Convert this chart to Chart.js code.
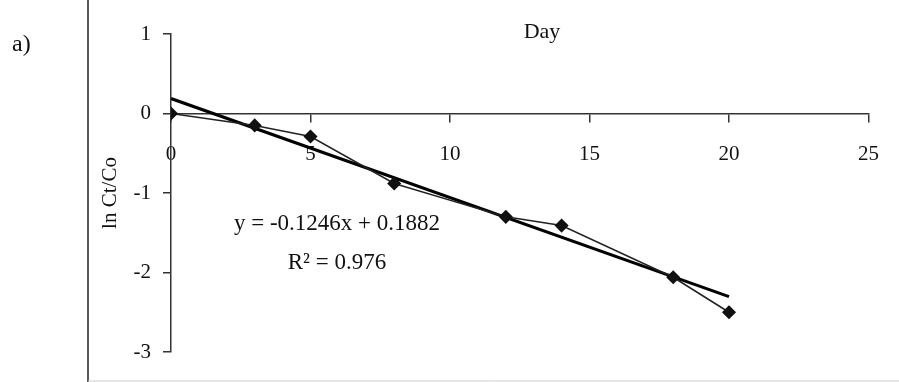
<!DOCTYPE html>
<html>
<head>
<meta charset="utf-8">
<script src="https://cdn.jsdelivr.net/npm/chart.js@4/dist/chart.umd.min.js"></script>
<style>
  html, body { margin: 0; padding: 0; background: #fff; }
  canvas { display: block; }
</style>
</head>
<body>
<canvas id="chart" width="899" height="382"></canvas>
<script>
// measured points (day, ln Ct/Co)
const days = [0, 3, 5, 8, 12, 14, 18, 20];
const lnRatio = [0, -0.15, -0.29, -0.88, -1.30, -1.41, -2.06, -2.50];

// linear trendline from the figure
const trendSlope = [-0.1246];
const trendIntercept = [0.1882];
const trendRange = [0, 20];

const xTicks = [0, 5, 10, 15, 20, 25];
const yTicks = [1, 0, -1, -2, -3];

const serif = 'Liberation Serif';

const trendData = trendRange.map(x => ({ x: x, y: trendSlope[0] * x + trendIntercept[0] }));
const pointData = days.map((d, i) => ({ x: d, y: lnRatio[i] }));

const decorPlugin = {
    id: 'decor',
    afterDraw(chart) {
        const ctx = chart.ctx;
        const area = chart.chartArea;
        ctx.save();

        // frame line at left and bottom
        ctx.strokeStyle = '#222';
        ctx.lineWidth = 1.5;
        ctx.beginPath();
        ctx.moveTo(88, 0);
        ctx.lineTo(88, 382);
        ctx.stroke();
        ctx.strokeStyle = '#ccc';
        ctx.lineWidth = 1;
        ctx.beginPath();
        ctx.moveTo(88, 381);
        ctx.lineTo(899, 381);
        ctx.stroke();

        ctx.fillStyle = '#111';
        ctx.font = '24px "' + serif + '"';
        ctx.textAlign = 'left';
        ctx.textBaseline = 'middle';
        ctx.fillText('a)', 12, 45);

        ctx.textAlign = 'center';
        ctx.font = '22px "' + serif + '"';
        ctx.fillText('Day', area.left + 371, 32);

        ctx.font = '23px "' + serif + '"';
        ctx.fillText('y = -0.1246x + 0.1882', area.left + 166, 224);
        ctx.fillText('R\u00B2 = 0.976', area.left + 166, 263);

        ctx.restore();
    }
};

new Chart(document.getElementById('chart'), {
    type: 'scatter',
    data: {
        datasets: [
            {
                label: 'Trendline',
                data: trendData,
                showLine: true,
                borderColor: '#000',
                borderWidth: 3,
                pointRadius: 0,
                order: 2
            },
            {
                label: 'ln Ct/Co',
                data: pointData,
                showLine: true,
                borderColor: '#222',
                borderWidth: 1.5,
                pointStyle: 'rectRot',
                pointRadius: 6,
                backgroundColor: '#111',
                pointBorderColor: '#111',
                order: 1
            }
        ]
    },
    options: {
        responsive: false,
        animation: false,
        layout: {
            padding: { top: 34, bottom: 30, left: 98, right: 27 }
        },
        plugins: {
            legend: { display: false },
            tooltip: { enabled: false }
        },
        scales: {
            x: {
                type: 'linear',
                position: { y: 0 },
                min: 0,
                max: 25,
                afterFit(scale) { scale.height = 0; },
                afterBuildTicks(scale) { scale.ticks = xTicks.map(v => ({ value: v })); },
                border: { display: true, color: '#333', width: 1.5 },
                grid: { drawOnChartArea: false, drawTicks: true, tickLength: 8, color: '#333', lineWidth: 1.5 },
                ticks: {
                    color: '#111',
                    padding: 20,
                    maxRotation: 0,
                    font: { family: serif, size: 21 }
                }
            },
            y: {
                type: 'linear',
                min: -3,
                max: 1,
                afterFit(scale) { scale.width = 73; },
                afterBuildTicks(scale) { scale.ticks = yTicks.map(v => ({ value: v })); },
                border: { display: true, color: '#333', width: 1.5 },
                grid: { drawOnChartArea: false, drawTicks: true, tickLength: 8, color: '#333', lineWidth: 1.5 },
                title: {
                    display: true,
                    text: 'ln Ct/Co',
                    color: '#111',
                    padding: { top: 0, bottom: 0 },
                    font: { family: serif, size: 21 }
                },
                ticks: {
                    color: '#111',
                    padding: 12,
                    font: { family: serif, size: 21 }
                }
            }
        }
    },
    plugins: [decorPlugin]
});
</script>
</body>
</html>
